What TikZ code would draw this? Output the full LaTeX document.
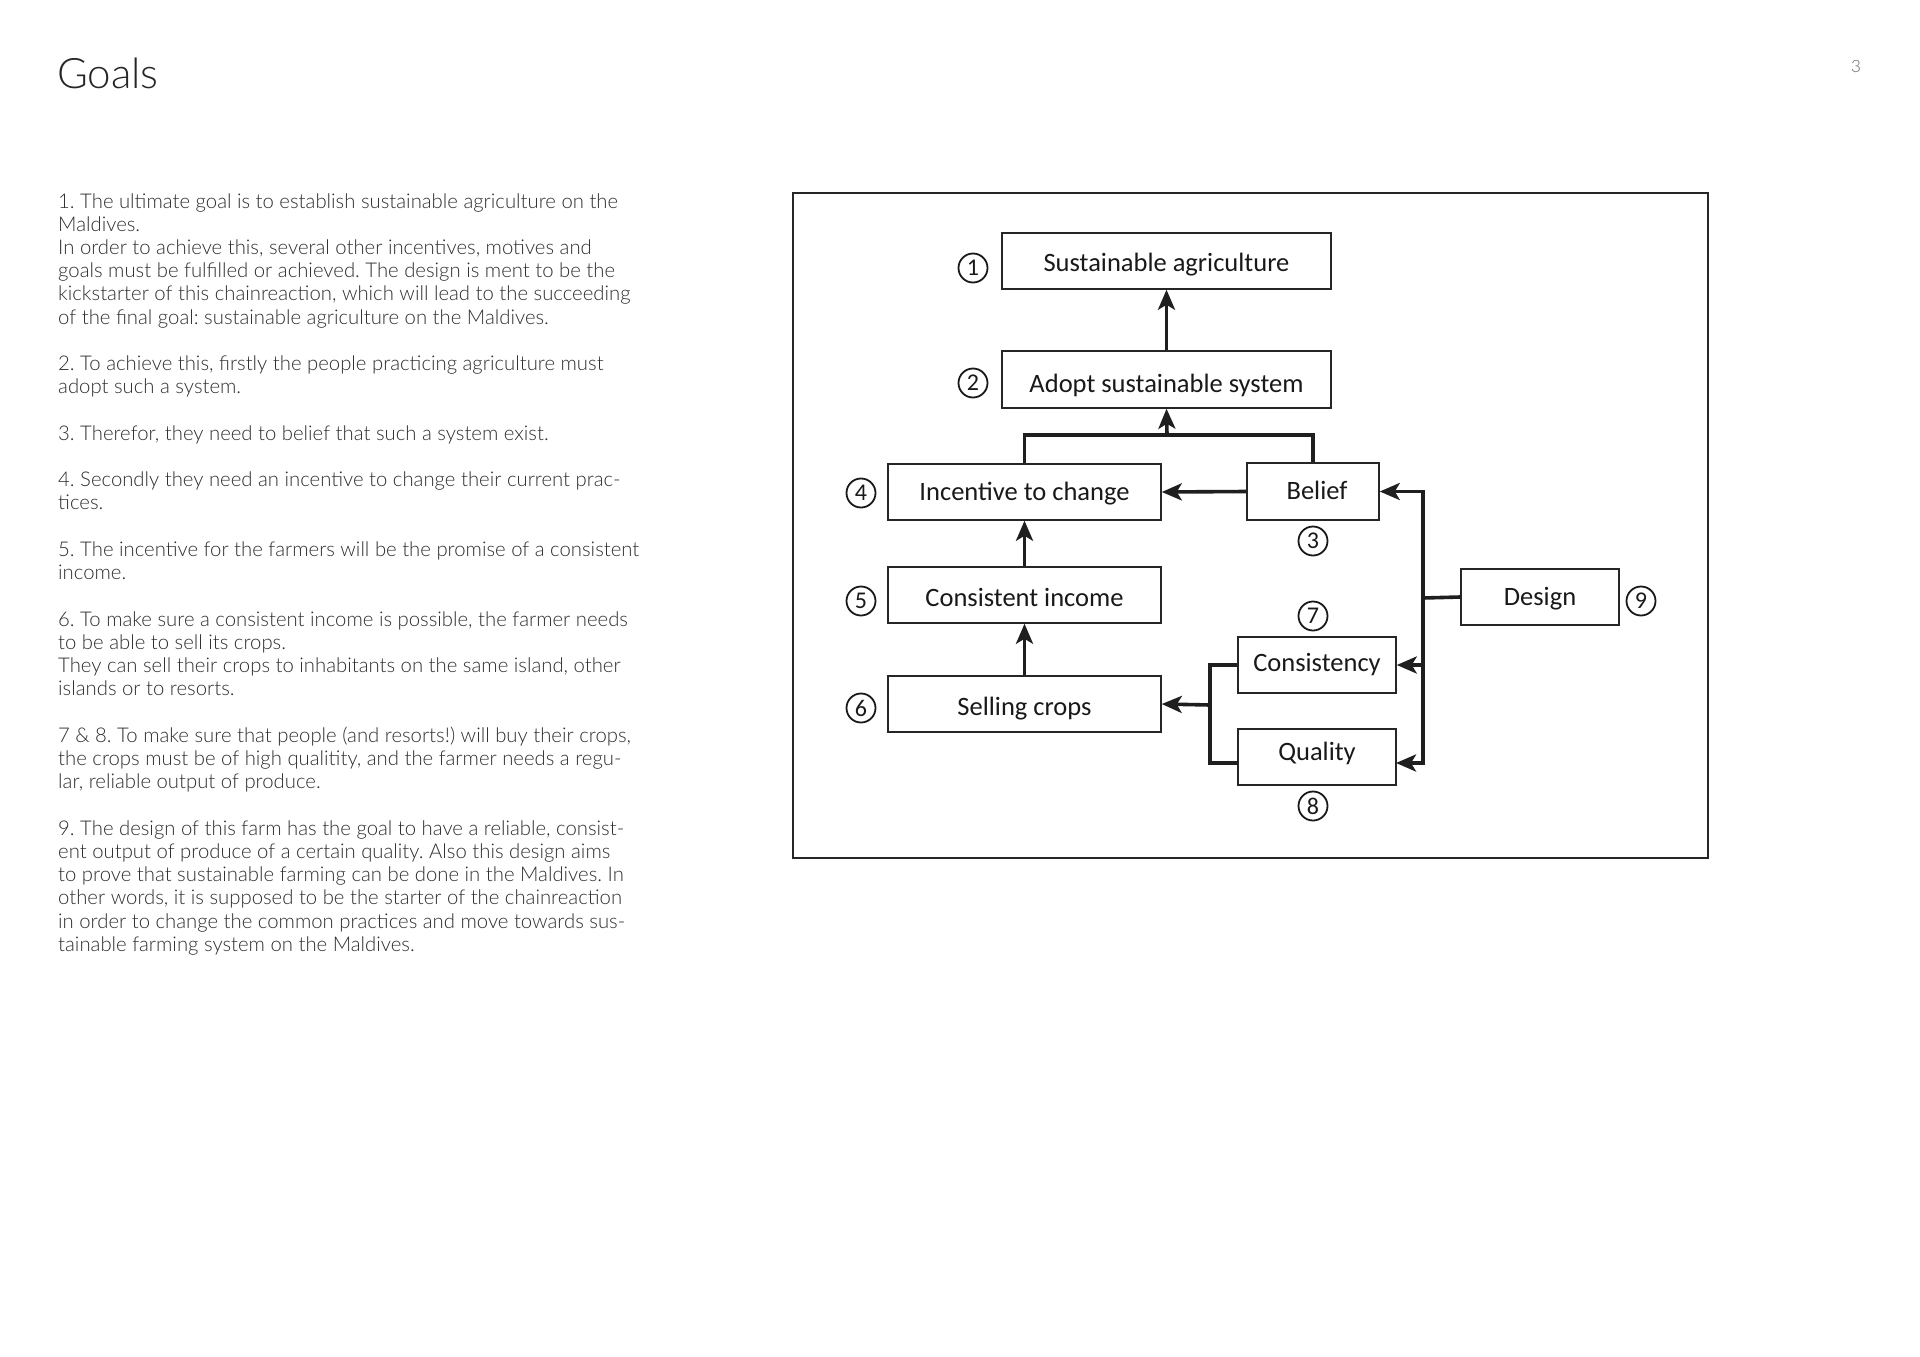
\documentclass[tikz,border=0pt]{standalone}
\usepackage{fontspec}
\usetikzlibrary{arrows.meta}
\newfontfamily\bodyfont{Lato Light}
\newfontfamily\dfont{Carlito}
\definecolor{bodytext}{HTML}{2E2E2E}
\frenchspacing
\tikzset{
  conn/.style={line width=3.6pt, black!88},
  arr/.style={conn, -{Stealth[length=20pt,width=17pt,inset=5pt]}},
  gbox/.style={draw, line width=1.5pt, black!85, inner sep=0pt, text height=17pt, text depth=0pt, font=\dfont\fontsize{26.5}{30}\selectfont, text=black!90},
  numc/.style={circle, draw, line width=1.8pt, black!90, minimum size=29pt, inner sep=0pt, font=\dfont\fontsize{24}{24}\selectfont},
  bline/.style={anchor=base west, inner sep=0pt, font=\bodyfont\fontsize{20.3}{23}\selectfont, text=bodytext},
}
\begin{document}
\begin{tikzpicture}[x=1pt,y=-1pt]
\useasboundingbox (0,0) rectangle (1920,1357);
\fill[white] (0,0) rectangle (1920,1357);

% title and page number
\node[anchor=base west, inner sep=0pt, font=\bodyfont\fontsize{42}{46}\selectfont, text=black!85] (title) at (57,88) {Goals};
\node[anchor=base, inner sep=0pt, font=\bodyfont\fontsize{17}{20}\selectfont, text=black!60] (pnum) at (1856,72) {3};

% body text
\foreach \t [count=\i] in {
{1. The ultimate goal is to establish sustainable agriculture on the},
{Maldives.},
{In order to achieve this, several other incentives, motives and},
{goals must be fulfilled or achieved. The design is ment to be the},
{kickstarter of this chainreaction, which will lead to the succeeding},
{of the final goal: sustainable agriculture on the Maldives.},
{},
{2. To achieve this, firstly the people practicing agriculture must},
{adopt such a system.},
{},
{3. Therefor, they need to belief that such a system exist.},
{},
{4. Secondly they need an incentive to change their current prac-},
{tices.},
{},
{5. The incentive for the farmers will be the promise of a consistent},
{income.},
{},
{6. To make sure a consistent income is possible, the farmer needs},
{to be able to sell its crops.},
{They can sell their crops to inhabitants on the same island, other},
{islands or to resorts.},
{},
{7 \& 8. To make sure that people (and resorts!) will buy their crops,},
{the crops must be of high qualitity, and the farmer needs a regu-},
{lar, reliable output of produce.},
{},
{9. The design of this farm has the goal to have a reliable, consist-},
{ent output of produce of a certain quality. Also this design aims},
{to prove that sustainable farming can be done in the Maldives. In},
{other words, it is supposed to be the starter of the chainreaction},
{in order to change the common practices and move towards sus-},
{tainable farming system on the Maldives.}}
{\node[bline] (line\i) at (58,{208+(\i-1)*23.23}) {\t};}

% diagram frame
\draw[line width=1.8pt, black!85] (793,193) rectangle (1708,858);

% boxes
\node[gbox, text height=21pt, minimum width=329pt, minimum height=56pt] (sa) at (1166.5,261) {Sustainable agriculture};
\node[gbox, text height=25pt, minimum width=329pt, minimum height=57pt] (ass) at (1166.5,379.5) {Adopt sustainable system};
\node[gbox, text height=16pt, minimum width=273pt, minimum height=56pt] (inc) at (1024.5,492) {Incentive to change};
\node[gbox, text height=16pt, minimum width=132pt, minimum height=57pt] (bel) at (1313,491.5) {\hspace*{8pt}Belief};
\node[gbox, text height=23pt, minimum width=273pt, minimum height=56pt] (ci) at (1024.5,595) {Consistent income};
\node[gbox, text height=23pt, minimum width=273pt, minimum height=56pt] (sc) at (1024.5,704) {Selling crops};
\node[gbox, text height=12pt, minimum width=158pt, minimum height=56pt] (cons) at (1317,665) {Consistency};
\node[gbox, text height=6pt, minimum width=158pt, minimum height=56pt] (qual) at (1317,757) {Quality};
\node[gbox, minimum width=158pt, minimum height=56pt] (des) at (1540,597) {Design};

% numbers
\node[numc] (n1) at (973,268) {1};
\node[numc] (n2) at (973,383) {2};
\node[numc] (n3) at (1313,541) {3};
\node[numc] (n4) at (861,493) {4};
\node[numc] (n5) at (861,601) {5};
\node[numc] (n6) at (861,708) {6};
\node[numc] (n7) at (1313,616) {7};
\node[numc] (n8) at (1313,806) {8};
\node[numc] (n9) at (1641,601) {9};

% connectors
\draw[arr] (ass.north) -- (sa.south);
\coordinate (top) at (1167,435);
\draw[conn] (inc.north) |- (top) -| (bel.north);
\draw[arr] (top) -- (ass.south);
\draw[arr] (bel.west) -- (inc.east);
\draw[arr] (ci.north) -- (inc.south);
\draw[arr] (sc.north) -- (ci.south);

\coordinate (lj) at (1210,705);
\coordinate (lq) at (1238,763);
\draw[conn] (cons.west) -| (lj) |- (lq);
\draw[arr] (lj) -- (sc.east);

\coordinate (rj) at (1423,598);
\coordinate (rq) at (1423,763);
\coordinate (qe) at (1396,763);
\draw[conn] (des.west) -- (rj);
\draw[arr] (rj) |- (bel.east);
\draw[arr] (rj) -- (rq) -- (qe);
\draw[arr] (rj |- cons.east) -- (cons.east);
\end{tikzpicture}
\end{document}
